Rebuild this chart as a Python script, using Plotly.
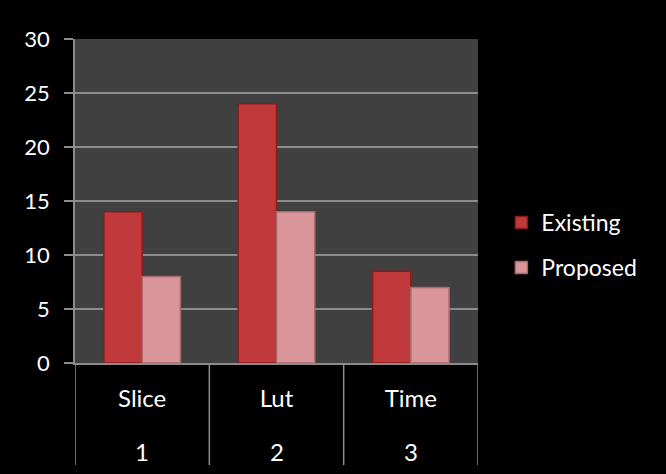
import plotly.graph_objects as go

groups = ["1", "2", "3"]
categories = ["Slice", "Lut", "Time"]
existing = [14, 24, 8.5]
proposed = [8, 14, 7]
yticks = [0, 5, 10, 15, 20, 25, 30]

FONT = "Lato, Open Sans, sans-serif"
AX = "#8c8c8c"
FS = 24

fig = go.Figure()
fig.add_bar(x=categories, y=existing, name="Existing", legendgroup="a",
            marker=dict(color="#c0393b", line=dict(color="#8a1c1e", width=1.5)))
fig.add_bar(x=categories, y=proposed, name="Proposed", legendgroup="b",
            marker=dict(color="#d9959a", line=dict(color="#a86a6e", width=1.5)))

# group numbers under categories
for c, g in zip(categories, groups):
    fig.add_annotation(x=c, xref="x", y=-0.272, yref="paper", text=g,
                       showarrow=False, yanchor="middle",
                       font=dict(family=FONT, size=FS, color="white"))

# dividers
n = len(categories)
for i in range(n + 1):
    fig.add_shape(type="line", xref="x", yref="paper", x0=i - 0.5, x1=i - 0.5,
                  y0=0, y1=-0.315, line=dict(color=AX, width=1.5))

fig.update_layout(
    width=666, height=474,
    paper_bgcolor="black", plot_bgcolor="#404040",
    margin=dict(l=75, r=188, t=39, b=111),
    bargap=0.43, bargroupgap=0,
    font=dict(family=FONT, size=FS, color="white"),
    legend=dict(x=1.058, y=0.364, yanchor="middle", xanchor="left",
                font=dict(size=23, color="white"), tracegroupgap=12),
    showlegend=True,
)
fig.update_yaxes(range=[0, 30], tickvals=yticks, showgrid=True,
                 gridcolor=AX, gridwidth=1.5,
                 ticks="outside", ticklen=9, tickcolor=AX, tickwidth=1.5,
                 showline=True, linecolor=AX, linewidth=1.5,
                 zeroline=False, tickfont=dict(size=22), ticklabelstandoff=10)
fig.update_xaxes(type="category", range=[-0.5, n - 0.5], showline=True,
                 linecolor=AX, linewidth=1.5, ticks="",
                 tickfont=dict(size=FS), ticklabelstandoff=13)

fig.write_html("out.html")
